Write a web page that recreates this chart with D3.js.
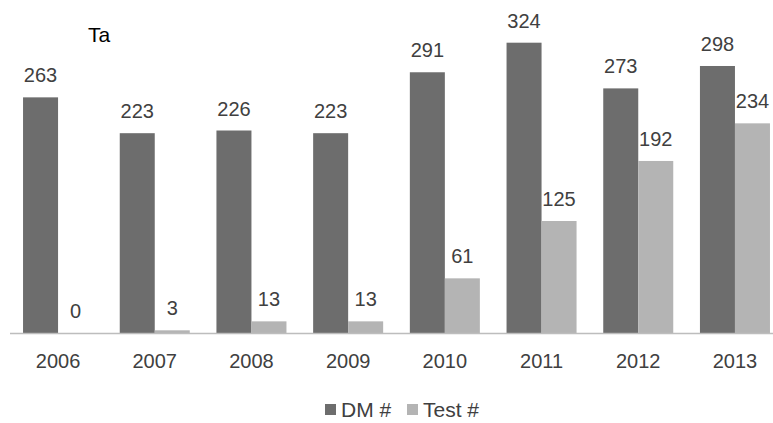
<!DOCTYPE html>
<html>
<head>
<meta charset="utf-8">
<script src="https://cdn.jsdelivr.net/npm/d3@7"></script>
<style>
  body { margin: 0; background: #fff; }
  svg { display: block; }
  text { font-family: "Liberation Sans", Arial, sans-serif; fill: #404040; }
</style>
</head>
<body>
<svg width="773" height="423"></svg>
<script>
// chart data
var years = ["2006", "2007", "2008", "2009", "2010", "2011", "2012", "2013"];
var seriesNames = ["DM #", "Test #"];
var dmValues = [263, 223, 226, 223, 291, 324, 273, 298];
var testValues = [0, 3, 13, 13, 61, 125, 192, 234];
var seriesColors = ["#6d6d6d", "#b4b4b4"];

var rows = years.map(function(y, i) {
    return { year: y, values: [dmValues[i], testValues[i]] };
});

var svg = d3.select("svg");

var x0 = d3.scaleBand()
    .domain(years)
    .range([9.7, 783.3])
    .paddingInner(0.276)
    .paddingOuter(0.138);

var x1 = d3.scaleBand()
    .domain(seriesNames)
    .range([0, x0.bandwidth()]);

var y = d3.scaleLinear()
    .domain([0, 350])
    .range([333, 333 - 0.896 * 350]);

var color = d3.scaleOrdinal().domain(seriesNames).range(seriesColors);

// title (partly hidden in the original)
svg.append("text")
    .attr("x", 88)
    .attr("y", 42)
    .style("font-size", "21px")
    .style("fill", "#000")
    .text("Ta");

var groups = svg.append("g")
    .selectAll("g")
    .data(rows)
    .enter()
    .append("g")
    .attr("transform", function(d) { return "translate(" + x0(d.year) + ",0)"; });

var cells = groups.selectAll("g")
    .data(function(d) {
        return seriesNames.map(function(s, i) { return { key: s, value: d.values[i] }; });
    })
    .enter()
    .append("g");

cells.append("rect")
    .attr("x", function(d) { return x1(d.key); })
    .attr("y", function(d) { return y(d.value); })
    .attr("width", x1.bandwidth())
    .attr("height", function(d) { return y(0) - y(d.value); })
    .attr("fill", function(d) { return color(d.key); });

cells.append("text")
    .attr("x", function(d) { return x1(d.key) + x1.bandwidth() / 2; })
    .attr("y", function(d) { return y(d.value) - 15; })
    .attr("text-anchor", "middle")
    .style("font-size", "20px")
    .text(function(d) { return d.value; });

// x axis
var xAxis = svg.append("g")
    .attr("transform", "translate(0," + y(0) + ")")
    .call(d3.axisBottom(x0).tickSize(0).tickPadding(21));
xAxis.select(".domain").remove();
xAxis.selectAll("text")
    .style("font-size", "20px")
    .style("font-family", "Liberation Sans, Arial, sans-serif")
    .attr("fill", "#404040");

svg.append("line")
    .attr("x1", 10).attr("x2", 773)
    .attr("y1", y(0) + 0.5).attr("y2", y(0) + 0.5)
    .attr("stroke", "#bdbdbd")
    .attr("stroke-width", 1.5);

// legend
var legendX = [325, 407];
var legend = svg.append("g")
    .selectAll("g")
    .data(seriesNames)
    .enter()
    .append("g")
    .attr("transform", function(d, i) { return "translate(" + legendX[i] + ",404)"; });

legend.append("rect")
    .attr("width", 11)
    .attr("height", 11)
    .attr("fill", function(d) { return color(d); });

legend.append("text")
    .attr("x", 16)
    .attr("y", 12.5)
    .style("font-size", "21px")
    .text(function(d) { return d; });
</script>
</body>
</html>
